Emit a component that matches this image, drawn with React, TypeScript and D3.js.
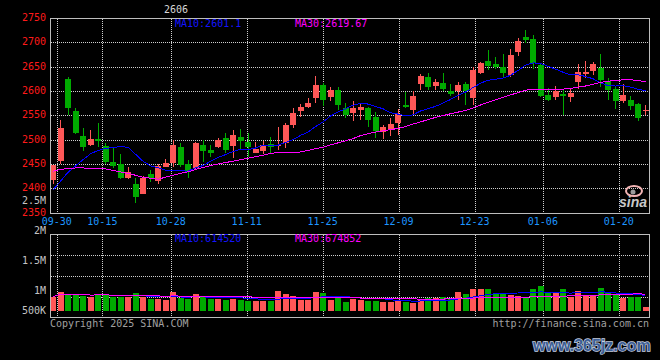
import React, { useEffect } from 'react';
import * as d3 from 'd3';

// trading days shown on the chart
const dates = [
    '09-27', '09-30', '10-08', '10-09', '10-10', '10-11', '10-14', '10-15', '10-16', '10-17',
    '10-18', '10-21', '10-22', '10-23', '10-24', '10-25', '10-28', '10-29', '10-30', '10-31',
    '11-01', '11-04', '11-05', '11-06', '11-07', '11-08', '11-11', '11-12', '11-13', '11-14',
    '11-15', '11-18', '11-19', '11-20', '11-21', '11-22', '11-25', '11-26', '11-27', '11-28',
    '11-29', '12-02', '12-03', '12-04', '12-05', '12-06', '12-09', '12-10', '12-11', '12-12',
    '12-13', '12-16', '12-17', '12-18', '12-19', '12-20', '12-23', '12-24', '12-25', '12-26',
    '12-27', '12-30', '12-31', '01-02', '01-03', '01-06', '01-07', '01-08', '01-09', '01-10',
    '01-13', '01-14', '01-15', '01-16', '01-17', '01-20', '01-21', '01-22', '01-23', '01-24'
];

const opens = [
    2418, 2458, 2625, 2560, 2508, 2490, 2503, 2489, 2456, 2451,
    2423, 2410, 2390, 2431, 2417, 2445, 2454, 2486, 2452, 2442,
    2490, 2480, 2485, 2505, 2488, 2507, 2496, 2474, 2478, 2492,
    2488, 2494, 2531, 2560, 2568, 2586, 2613, 2589, 2603, 2567,
    2555, 2562, 2565, 2548, 2516, 2520, 2535, 2572, 2562, 2615,
    2630, 2612, 2617, 2601, 2600, 2615, 2587, 2637, 2662, 2656,
    2651, 2634, 2680, 2712, 2708, 2654, 2593, 2589, 2594, 2588,
    2620, 2636, 2641, 2649, 2621, 2605, 2580, 2582, 2574, 2559
];
const highs = [
    2450, 2541, 2630, 2567, 2524, 2521, 2536, 2495, 2485, 2472,
    2446, 2422, 2427, 2439, 2452, 2461, 2500, 2495, 2459, 2497,
    2500, 2490, 2504, 2515, 2521, 2523, 2514, 2497, 2499, 2506,
    2528, 2535, 2567, 2574, 2587, 2632, 2617, 2610, 2610, 2576,
    2580, 2576, 2569, 2557, 2531, 2545, 2563, 2598, 2601, 2635,
    2637, 2625, 2637, 2615, 2620, 2620, 2651, 2661, 2685, 2671,
    2676, 2688, 2709, 2726, 2716, 2658, 2608, 2612, 2605, 2608,
    2656, 2662, 2661, 2676, 2627, 2610, 2615, 2591, 2577, 2572
];
const lows = [
    2411, 2451, 2552, 2512, 2478, 2488, 2485, 2451, 2442, 2420,
    2421, 2372, 2389, 2415, 2411, 2444, 2446, 2444, 2423, 2440,
    2456, 2466, 2483, 2473, 2463, 2480, 2466, 2473, 2471, 2474,
    2480, 2483, 2524, 2548, 2565, 2576, 2571, 2580, 2562, 2545,
    2539, 2541, 2528, 2505, 2502, 2509, 2511, 2565, 2552, 2603,
    2603, 2603, 2600, 2591, 2582, 2572, 2572, 2635, 2644, 2647,
    2630, 2630, 2673, 2699, 2647, 2589, 2580, 2582, 2552, 2578,
    2605, 2627, 2634, 2610, 2582, 2564, 2576, 2562, 2539, 2552
];
const closes = [
    2449, 2526, 2567, 2515, 2487, 2502, 2498, 2455, 2447, 2422,
    2435, 2384, 2423, 2422, 2447, 2454, 2491, 2450, 2435, 2495,
    2478, 2474, 2500, 2480, 2511, 2498, 2487, 2481, 2490, 2485,
    2491, 2531, 2556, 2568, 2576, 2613, 2582, 2603, 2572, 2552,
    2565, 2569, 2541, 2519, 2528, 2533, 2553, 2568, 2591, 2632,
    2610, 2619, 2606, 2595, 2613, 2600, 2644, 2658, 2652, 2651,
    2637, 2675, 2704, 2706, 2658, 2591, 2582, 2601, 2590, 2596,
    2640, 2639, 2656, 2623, 2603, 2580, 2593, 2570, 2546, 2562
];
const volumes = [
    572000, 760000, 668000, 668000, 612000, 548000, 668000, 668000, 548000, 548000,
    548000, 720000, 548000, 468000, 492000, 440000, 760000, 532000, 492000, 668000,
    560000, 468000, 468000, 440000, 468000, 440000, 412000, 412000, 412000, 412000,
    800000, 680000, 600000, 440000, 440000, 760000, 720000, 440000, 520000, 380000,
    480000, 440000, 400000, 400000, 360000, 360000, 420000, 360000, 340000, 440000,
    520000, 520000, 560000, 520000, 760000, 680000, 880000, 880000, 880000, 680000,
    680000, 640000, 600000, 532000, 880000, 1000000, 708000, 708000, 880000, 548000,
    800000, 600000, 600000, 932000, 772000, 668000, 520000, 572000, 572000, 172000
];

// moving average values before a full window is on screen
const ma10Head = [2398, 2416, 2434, 2447, 2460, 2472, 2479, 2483, 2485];
const ma30Head = [
    2436, 2440, 2442, 2443, 2443, 2442, 2442, 2441, 2438, 2435,
    2432, 2428, 2424, 2422, 2420, 2424, 2428, 2432, 2435, 2440,
    2444, 2448, 2451, 2454, 2457, 2460, 2463, 2466, 2469
];

const dateTicks = ['09-30', '10-15', '10-28', '11-11', '11-25', '12-09', '12-23', '01-06', '01-20'];
const priceTicks = [2750, 2700, 2650, 2600, 2550, 2500, 2450, 2400, 2350];
const volTicks = [2500000, 2000000, 1500000, 1000000, 500000];
const volTickLabels = ['2.5M', '2M', '1.5M', '1M', '500K'];

const maLabel = { ma10: '2601.1', ma30: '2619.67', vma10: '614520', vma30: '674852' };

const RED = '#ff5757';
const GREEN = '#00aa00';
const GRID = '#cfcfcf';
const FRAME = '#bdbdbd';
const MONO = '"DejaVu Sans Mono", monospace';

function movingAverage(values: number[], n: number, head?: number[]) {
    return values.map((_, i) => {
        if (i < n - 1) return head ? head[i] : (d3.mean(values.slice(0, i + 1)) as number);
        return d3.mean(values.slice(i - n + 1, i + 1)) as number;
    });
}

export default function App() {
    useEffect(() => {
        document.body.style.margin = '0';
        document.body.style.background = '#000';
    }, []);

    const idx = d3.range(dates.length);
    const x = d3.scaleBand<number>().domain(idx).range([50, 650]);
    const bodyW = x.bandwidth() * 0.8;
    const gridX = d3.scaleLinear().domain([0, dates.length - 1]).range([49.7, 649.7]);
    const y = d3.scaleLinear().domain([2350, 2750]).range([213.3, 18.3]);
    const yv = d3.scaleLinear().domain([0, 2500000]).range([311, 248.5]);
    const volLabelY = d3.scaleLinear().domain([0, 2500000]).range([354, 204]);

    const ma10 = movingAverage(closes, 10, ma10Head);
    const ma30 = movingAverage(closes, 30, ma30Head);
    const vma10 = movingAverage(volumes, 10);
    const vma30 = movingAverage(volumes, 30);

    const cx = (i: number) => (x(i) as number) + bodyW / 2;
    const px = (v: number) => Math.floor(v) + 0.5;
    const priceLine = d3.line<number>().x((_, i) => cx(i)).y(d => y(d));
    const volLine = d3.line<number>().x((_, i) => cx(i)).y(d => yv(d));

    const tickIdx = dateTicks.map(t => dates.indexOf(t));

    return (
        <svg width={660} height={360} style={{ display: 'block', background: '#000' }}>
            <rect x={0} y={0} width={660} height={360} fill="#000" />

            {/* title */}
            <text x={176} y={13} textAnchor="middle" fill="#d6d6d6" fontFamily={MONO} fontSize={10}>2606</text>

            {/* main grid */}
            <g stroke={GRID} strokeDasharray="1 1" shapeRendering="crispEdges">
                {priceTicks.slice(1, -1).map(p => (
                    <line key={p} x1={51} x2={649} y1={px(y(p))} y2={px(y(p))} />
                ))}
                {tickIdx.map(i => (
                    <line key={i} x1={px(gridX(i))} x2={px(gridX(i))} y1={19} y2={213} />
                ))}
                {[255, 276, 297].map(v => (
                    <line key={v} x1={51} x2={649} y1={v + 0.5} y2={v + 0.5} />
                ))}
                {tickIdx.map(i => (
                    <line key={'v' + i} x1={px(gridX(i))} x2={px(gridX(i))} y1={235} y2={318} />
                ))}
            </g>

            {/* candles */}
            <g shapeRendering="crispEdges">
                {idx.map(i => {
                    const up = closes[i] >= opens[i];
                    const c = up ? RED : GREEN;
                    const top = y(Math.max(opens[i], closes[i]));
                    const bot = y(Math.min(opens[i], closes[i]));
                    return (
                        <g key={i}>
                            <line x1={px(cx(i))} x2={px(cx(i))} y1={y(highs[i])} y2={y(lows[i])} stroke={c} />
                            <rect x={x(i)} y={top} width={bodyW} height={Math.max(1, bot - top)} fill={c} />
                        </g>
                    );
                })}
            </g>
            <path d={priceLine(ma10) as string} fill="none" stroke="#0000ff" shapeRendering="crispEdges" />
            <path d={priceLine(ma30) as string} fill="none" stroke="#ff00ff" shapeRendering="crispEdges" />

            {/* volume bars */}
            <g shapeRendering="crispEdges">
                {idx.map(i => (
                    <rect key={i} x={x(i)} y={yv(volumes[i])} width={bodyW}
                        height={yv(0) - yv(volumes[i])}
                        fill={closes[i] >= opens[i] ? RED : GREEN} />
                ))}
            </g>
            <path d={volLine(vma10) as string} fill="none" stroke="#0000ff" shapeRendering="crispEdges" />
            <path d={volLine(vma30) as string} fill="none" stroke="#ff00ff" shapeRendering="crispEdges" />

            {/* frames */}
            <g fill="none" stroke={FRAME} shapeRendering="crispEdges">
                <rect x={50.5} y={18.5} width={599} height={195} />
                <rect x={50.5} y={234.5} width={599} height={83} />
            </g>

            {/* axis labels */}
            <g fontFamily={MONO} fontSize={10}>
                {priceTicks.map(p => (
                    <text key={p} x={46} y={y(p) + 2.5} textAnchor="end" fill="#ff1a1a">{p}</text>
                ))}
                {volTicks.map((v, k) => (
                    <text key={v} x={46} y={Math.min(volLabelY(v), 314)} textAnchor="end" fill="#c4c4c4">
                        {volTickLabels[k]}
                    </text>
                ))}
                {tickIdx.map((i, k) => (
                    <text key={i} x={gridX(i) - 0.5} y={225} textAnchor="middle" fill="#1e96ff">{dateTicks[k]}</text>
                ))}
                <text x={175} y={27} fill="#1414ff">MA10:{maLabel.ma10}</text>
                <text x={295} y={27} fill="#ff00ff">MA30:{maLabel.ma30}</text>
                <text x={175} y={242} fill="#1414ff">MA10:{maLabel.vma10}</text>
                <text x={295} y={242} fill="#ff00ff">MA30:{maLabel.vma30}</text>
                <text x={50} y={327} fill="#a0a0a0">Copyright 2025 SINA.COM</text>
                <text x={649} y={327} textAnchor="end" fill="#a0a0a0">http://finance.sina.com.cn</text>
            </g>

            {/* sina logo */}
            <g>
                <ellipse cx={634} cy={191} rx={8} ry={5} fill="none" stroke="#f2b4b4" strokeWidth={2} />
                <circle cx={633} cy={192} r={2.5} fill="#9a9a9a" />
                <text x={619} y={207} fill="#c8c8c8" fontFamily="'Liberation Sans'" fontWeight="bold"
                    fontStyle="italic" fontSize={14}>sina</text>
            </g>

            {/* watermark */}
            <text x={533} y={351} fontFamily="'Liberation Sans'" fontWeight="bold" fontSize={16}
                fill="#3d5f96" stroke="#c8d0e0" strokeWidth={1.4} paintOrder="stroke">www.365jz.com</text>
        </svg>
    );
}
